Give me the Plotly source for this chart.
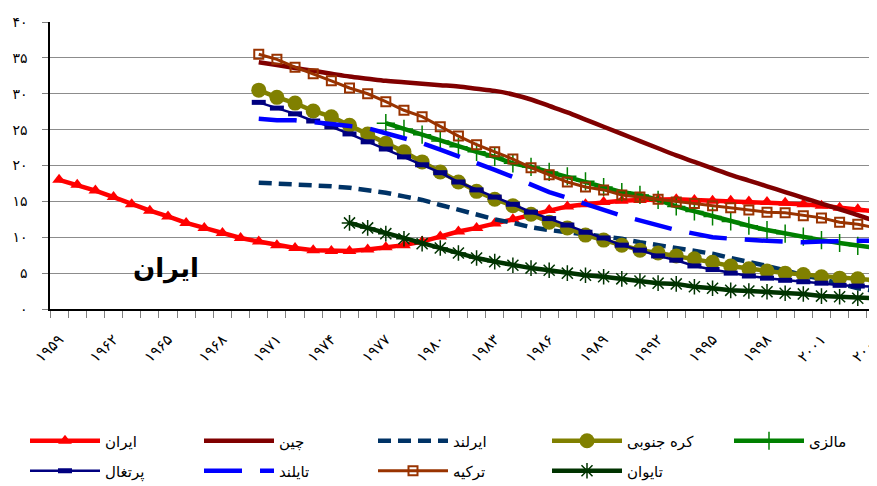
import plotly.graph_objects as go

# ---------------- data ----------------
years_all = list(range(1959, 2005))

iran = [18.0, 17.3, 16.5, 15.6, 14.6, 13.7, 12.9, 12.0, 11.3, 10.6,
        9.9, 9.4, 8.9, 8.5, 8.2, 8.1, 8.1, 8.3, 8.6, 8.9,
        9.4, 10.1, 10.8, 11.3, 11.9, 12.5, 13.2, 13.8, 14.3, 14.6,
        14.9, 15.1, 15.2, 15.3, 15.3, 15.2, 15.1, 15.1, 15.0, 14.9,
        14.8, 14.6, 14.4, 14.1, 13.9, 13.6]

years_1970 = list(range(1970, 2005))
china = [34.4, 34.0, 33.6, 33.2, 32.8, 32.4, 32.1, 31.8, 31.6, 31.4,
         31.2, 31.0, 30.7, 30.4, 29.9, 29.2, 28.3, 27.4, 26.4, 25.4,
         24.4, 23.4, 22.4, 21.4, 20.5, 19.6, 18.7, 17.9, 17.1, 16.3,
         15.5, 14.7, 13.9, 13.1, 12.2]
ireland = [17.6, 17.5, 17.4, 17.3, 17.1, 16.9, 16.6, 16.2, 15.7, 15.2,
           14.5, 13.8, 13.1, 12.5, 12.0, 11.4, 11.0, 10.7, 10.5, 10.2,
           9.8, 9.3, 8.9, 8.5, 8.1, 7.7, 7.1, 6.6, 6.0, 5.4,
           4.7, 4.2, 3.5, 2.9, 2.5]
korea = [30.5, 29.5, 28.7, 27.6, 26.8, 25.6, 24.4, 23.1, 21.9, 20.5,
         19.1, 17.7, 16.4, 15.3, 14.4, 13.2, 12.1, 11.3, 10.3, 9.6,
         8.9, 8.2, 7.8, 7.4, 7.0, 6.5, 6.0, 5.6, 5.3, 5.0,
         4.8, 4.5, 4.3, 4.2, 4.0]
portugal = [28.8, 28.0, 27.2, 26.2, 25.4, 24.4, 23.3, 22.3, 21.2, 20.1,
            19.0, 17.7, 16.6, 15.6, 14.6, 13.5, 12.6, 11.7, 10.7, 9.9,
            8.9, 8.2, 7.4, 6.8, 6.0, 5.5, 5.0, 4.6, 4.3, 4.0,
            3.8, 3.6, 3.3, 3.2, 3.1]
thailand = [26.5, 26.3, 26.3, 26.1, 25.8, 25.5, 25.2, 24.5, 23.8, 23.1,
            22.2, 21.3, 20.3, 19.4, 18.4, 17.3, 16.3, 15.5, 14.6, 13.8,
            13.0, 12.3, 11.6, 11.0, 10.5, 10.0, 9.8, 9.6, 9.5, 9.4,
            9.3, 9.4, 9.5, 9.5, 9.5]
turkey = [35.5, 34.8, 33.7, 32.8, 31.8, 30.8, 30.0, 28.9, 27.7, 26.8,
          25.4, 24.1, 22.9, 21.9, 20.9, 19.7, 18.7, 17.7, 17.0, 16.6,
          15.9, 15.6, 15.3, 14.9, 14.7, 14.4, 14.1, 13.8, 13.5, 13.4,
          13.0, 12.7, 12.1, 11.8, 11.3]

years_1975 = list(range(1975, 2005))
taiwan = [12.0, 11.3, 10.5, 9.8, 9.1, 8.5, 7.8, 7.1, 6.6, 6.1,
          5.7, 5.4, 5.0, 4.7, 4.5, 4.2, 3.9, 3.6, 3.5, 3.1,
          2.9, 2.6, 2.5, 2.4, 2.2, 2.1, 1.8, 1.7, 1.5, 1.5]

years_1977 = list(range(1977, 2005))
malaysia = [25.9, 25.1, 24.3, 23.4, 22.6, 21.9, 21.2, 20.3, 19.8, 19.1,
            18.5, 17.8, 17.0, 16.3, 15.9, 15.2, 14.3, 13.6, 12.9, 12.2,
            11.6, 11.0, 10.5, 10.1, 9.6, 9.2, 8.8, 8.5]

x_tick_vals = [1959, 1962, 1965, 1968, 1971, 1974, 1977, 1980, 1983, 1986,
               1989, 1992, 1995, 1998, 2001, 2004]
x_tick_text = ["۱۹۵۹", "۱۹۶۲", "۱۹۶۵", "۱۹۶۸", "۱۹۷۱", "۱۹۷۴", "۱۹۷۷", "۱۹۸۰",
               "۱۹۸۳", "۱۹۸۶", "۱۹۸۹", "۱۹۹۲", "۱۹۹۵", "۱۹۹۸", "۲۰۰۱", "۲۰۰۴"]
y_tick_vals = [0, 5, 10, 15, 20, 25, 30, 35, 40]
y_tick_text = ["۰", "۵", "۱۰", "۱۵", "۲۰", "۲۵", "۳۰", "۳۵", "۴۰"]

names = ["ایران", "چین", "ایرلند", "کره جنوبی", "مالزی",
         "پرتغال", "تایلند", "ترکیه", "تایوان"]

FONT = "DejaVu Sans"

fig = go.Figure()

def add(x, y, name, color, width=4.5, dash="solid", marker=None, legend="legend", shape="linear"):
    fig.add_trace(go.Scatter(
        x=x, y=y, name=name, legend=legend,
        mode="lines+markers" if marker else "lines",
        line=dict(color=color, width=width, dash=dash, shape=shape),
        marker=marker if marker else None,
        hoverinfo="skip",
    ))

# Row 1 of legend
add(years_all, iran, names[0], "#FF0000",
    marker=dict(symbol="triangle-up", size=12, color="#FF0000"))
add(years_1970, china, names[1], "#800000", shape="spline")
add(years_1970, ireland, names[2], "#003366", dash="13px,7px")
add(years_1970, korea, names[3], "#808000",
    marker=dict(symbol="circle", size=15, color="#808000"))
add(years_1977, malaysia, names[4], "#008000", legend="legend3",
    marker=dict(symbol="cross-thin", size=13, color="#008000",
                line=dict(color="#008000", width=1.5)))
# Row 2 of legend
add(years_1970, portugal, names[5], "#000080", width=2.5, legend="legend2",
    marker=dict(symbol="line-ew", size=10, color="#000080",
                line=dict(color="#000080", width=5)))
add(years_1970, thailand, names[6], "#0000FF", dash="38px,18px", legend="legend2")
add(years_1970, turkey, names[7], "#993300", width=3, legend="legend2",
    marker=dict(symbol="square-open", size=9, color="#993300",
                line=dict(color="#993300", width=2)))
add(years_1975, taiwan, names[8], "#003300", legend="legend2",
    marker=dict(symbol="asterisk-open", size=13, color="#003300",
                line=dict(color="#003300", width=1.5)))

fig.add_annotation(x=1964.9, y=5.6, text="<b>ایران</b>", showarrow=False,
                   font=dict(family=FONT, size=26, color="black"))

legend_common = dict(
    orientation="h", xref="container", yref="container",
    xanchor="left", yanchor="middle",
    entrywidth=89, entrywidthmode="pixels", itemwidth=70,
    font=dict(family=FONT, size=15, color="black"),
    bgcolor="rgba(0,0,0,0)", traceorder="normal",
)

fig.update_layout(
    width=877, height=486,
    margin=dict(l=42, r=0, t=14, b=185),
    plot_bgcolor="white", paper_bgcolor="white",
    font=dict(family=FONT, color="black"),
    showlegend=True,
    legend=dict(**legend_common, x=17/877, y=1 - 433/486),
    legend2=dict(**legend_common, x=17/877, y=1 - 463/486),
    legend3=dict(**legend_common, x=721/877, y=1 - 433/486),
    xaxis=dict(
        range=[1958.5, 2004.5],
        tickmode="array", tickvals=x_tick_vals, ticktext=x_tick_text,
        tickangle=-45, ticks="", showgrid=False, zeroline=False,
        showline=True, linecolor="black", linewidth=1.5,
        tickfont=dict(family=FONT, size=15, color="black"),
        ticklabelstandoff=14,
        minor=dict(tick0=1958.5, dtick=1, ticks="outside", ticklen=7,
                   tickcolor="#808080", tickwidth=1, showgrid=False),
    ),
    yaxis=dict(
        range=[0, 40],
        tickmode="array", tickvals=y_tick_vals, ticktext=y_tick_text,
        ticks="outside", ticklen=6, tickcolor="#808080",
        showgrid=True, gridcolor="#8c8c8c", gridwidth=1,
        zeroline=False, showline=True, linecolor="black", linewidth=1.5,
        tickfont=dict(family=FONT, size=14, color="black"),
        ticklabelstandoff=12,
    ),
)

fig.write_html("out.html")
